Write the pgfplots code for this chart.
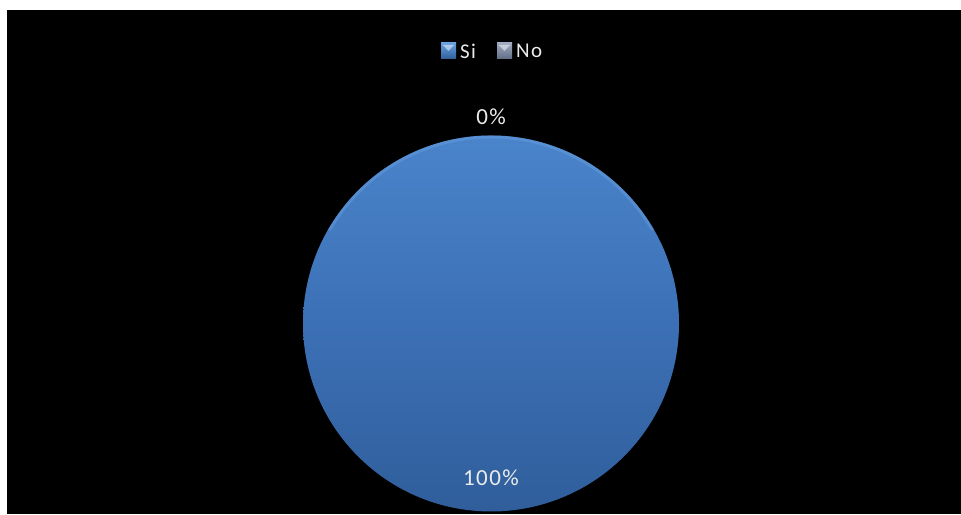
\documentclass[border=0pt]{standalone}
\usepackage{pgfplots}
\usepackage{pgfplotstable}
\pgfplotsset{compat=1.18}
\usepackage{fontspec}
\setmainfont{Carlito}
\newfontfamily\spaced[LetterSpace=6]{Carlito}
\definecolor{pietop}{RGB}{74,132,202}
\definecolor{piemid}{RGB}{60,112,182}
\definecolor{piebot}{RGB}{48,94,155}
\definecolor{piehi}{RGB}{105,160,225}
\definecolor{nocol}{RGB}{120,135,165}
\definecolor{labcol}{RGB}{235,235,235}
\pgfplotstableread{
label value
Si 100
No 0
}\piedata
\begin{document}
\begin{tikzpicture}[x=1pt,y=1pt]
\fill[white] (0,0) rectangle (961,514);
\fill[black] (7,0) rectangle (961,504);
% legend
\shade[top color=piehi, bottom color=piebot] (441,455) rectangle (456,471);
\fill[white,opacity=0.5] (443,469) -- (454,469) -- (448.5,463) -- cycle;
\node[anchor=west, text=labcol, font=\spaced\fontsize{21}{23}\selectfont, inner sep=0] at (460,463) {Si};
\shade[top color=nocol!70!white, bottom color=nocol!80!black] (497,455) rectangle (512,471);
\fill[white,opacity=0.5] (499,469) -- (510,469) -- (504.5,463) -- cycle;
\node[anchor=west, text=labcol, font=\spaced\fontsize{21}{23}\selectfont, inner sep=0] at (516,463) {No};
\begin{axis}[
  at={(491pt,190.5pt)}, anchor=origin,
  x=188pt, y=188pt,
  xmin=-1.1, xmax=1.1, ymin=-1.1, ymax=1.1,
  hide axis, clip=false,
]
\pgfplotstablegetelem{0}{value}\of\piedata \let\vSi\pgfplotsretval
\pgfplotstablegetelem{1}{value}\of\piedata \let\vNo\pgfplotsretval
\pgfmathsetmacro{\tot}{\vSi+\vNo}
\pgfmathsetmacro{\aSi}{\vSi/\tot*360}
\pgfmathtruncatemacro{\pSi}{round(\vSi/\tot*100)}
\pgfmathtruncatemacro{\pNo}{round(\vNo/\tot*100)}
\shade[top color=pietop, bottom color=piebot, middle color=piemid]
  (axis cs:0,0) ++(90:188pt) arc[start angle=90, delta angle=-\aSi, radius=188pt] -- (axis cs:0,0) -- cycle;
\draw[piehi, line width=3pt, opacity=0.45]
  (axis cs:0,0) ++(150:186.5pt) arc[start angle=150, end angle=30, radius=186.5pt];
\node[text=labcol, font=\spaced\fontsize{23}{25}\selectfont] at (axis cs:0,-0.82) {\pSi\%};
\node[text=labcol, font=\spaced\fontsize{23}{25}\selectfont] at (axis cs:0,1.1) {\pNo\%};
\end{axis}
\pgfresetboundingbox
\useasboundingbox (0,0) rectangle (961,514);
\end{tikzpicture}
\end{document}
